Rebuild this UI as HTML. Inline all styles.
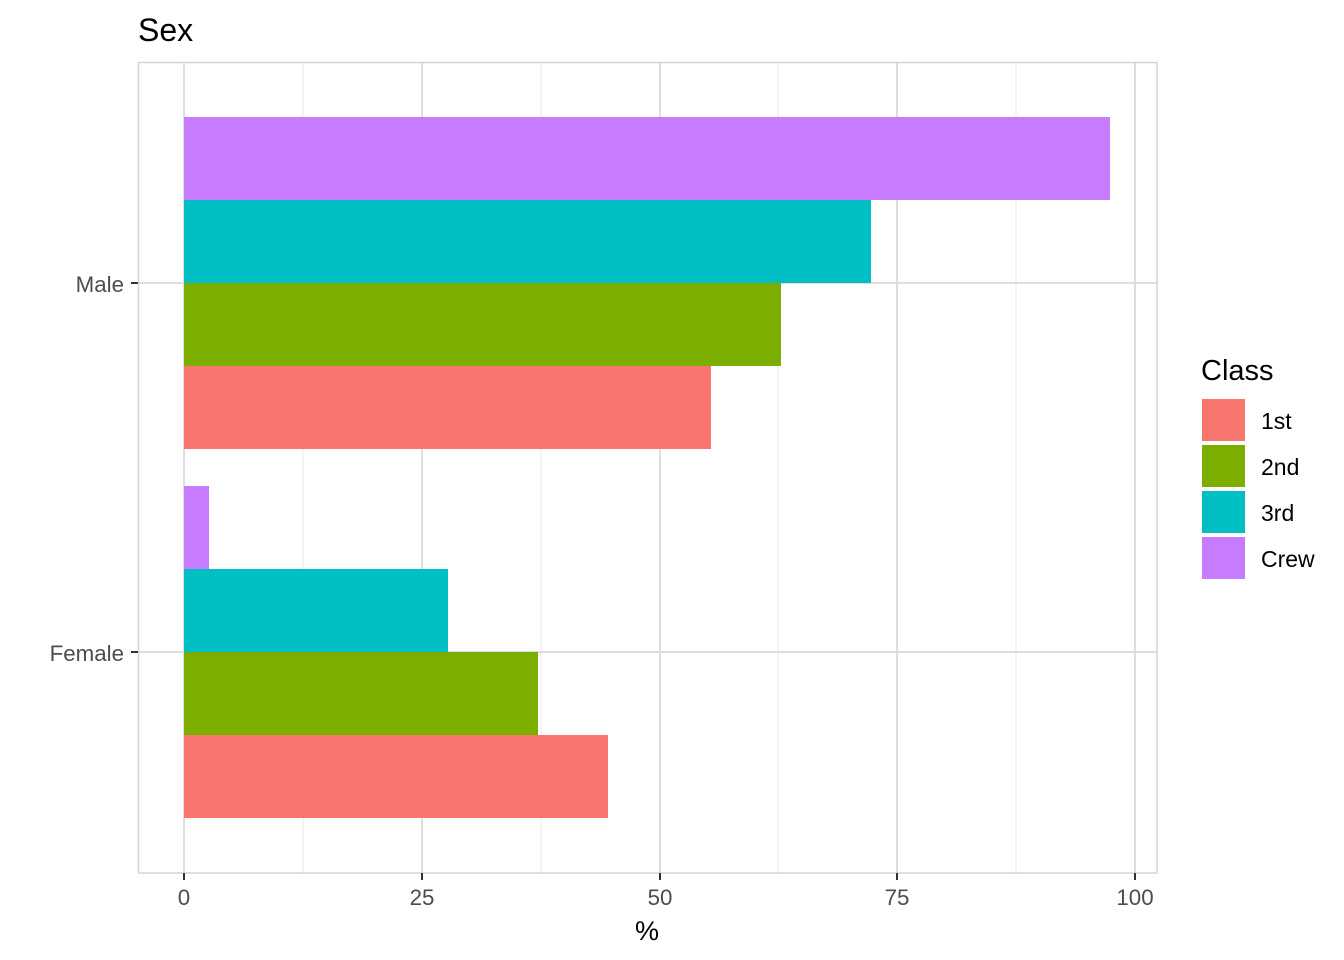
<!DOCTYPE html>
<html><head><meta charset="utf-8"><style>body{margin:0;background:#fff}svg{display:block}</style></head><body>
<svg width="1344" height="960" xmlns="http://www.w3.org/2000/svg" font-family="Liberation Sans, Arial, sans-serif">
<rect width="1344" height="960" fill="#fff"/>
<g stroke="#ebebeb" stroke-width="1.1">
<line x1="303" y1="62" x2="303" y2="873"/><line x1="541" y1="62" x2="541" y2="873"/>
<line x1="778" y1="62" x2="778" y2="873"/><line x1="1016" y1="62" x2="1016" y2="873"/>
</g>
<g stroke="#dedede" stroke-width="2">
<line x1="184" y1="62" x2="184" y2="873"/><line x1="422" y1="62" x2="422" y2="873"/>
<line x1="660" y1="62" x2="660" y2="873"/><line x1="897" y1="62" x2="897" y2="873"/>
<line x1="1135" y1="62" x2="1135" y2="873"/>
<line x1="138" y1="283" x2="1157" y2="283"/><line x1="138" y1="652" x2="1157" y2="652"/>
</g>
<rect x="184" y="117" width="926" height="83" fill="#C77CFF"/>
<rect x="184" y="200" width="687" height="83" fill="#00BFC4"/>
<rect x="184" y="283" width="597" height="83" fill="#7CAE00"/>
<rect x="184" y="366" width="527" height="83" fill="#F8766D"/>
<rect x="184" y="486" width="25" height="83" fill="#C77CFF"/>
<rect x="184" y="569" width="264" height="83" fill="#00BFC4"/>
<rect x="184" y="652" width="354" height="83" fill="#7CAE00"/>
<rect x="184" y="735" width="424" height="83" fill="#F8766D"/>
<rect x="138.5" y="62.5" width="1018.5" height="810.5" fill="none" stroke="#d4d4d4" stroke-width="1.5"/>
<g stroke="#333" stroke-width="2">
<line x1="131" y1="283" x2="138" y2="283"/><line x1="131" y1="652" x2="138" y2="652"/>
<line x1="184" y1="873" x2="184" y2="880"/><line x1="422" y1="873" x2="422" y2="880"/>
<line x1="660" y1="873" x2="660" y2="880"/><line x1="897" y1="873" x2="897" y2="880"/>
<line x1="1135" y1="873" x2="1135" y2="880"/>
</g>
<g fill="#4d4d4d" font-size="22.3">
<text x="124" y="292" text-anchor="end">Male</text>
<text x="124" y="661" text-anchor="end">Female</text>
<g text-anchor="middle">
<text x="184" y="905">0</text><text x="422" y="905">25</text><text x="660" y="905">50</text>
<text x="897" y="905">75</text><text x="1135" y="905">100</text>
</g></g>
<text x="647" y="940" text-anchor="middle" font-size="27" fill="#000">%</text>
<text x="138" y="41" font-size="32" fill="#000">Sex</text>
<text x="1201" y="380" font-size="29" fill="#000">Class</text>
<rect x="1202" y="399" width="43" height="42" fill="#F8766D"/>
<rect x="1202" y="445" width="43" height="42" fill="#7CAE00"/>
<rect x="1202" y="491" width="43" height="42" fill="#00BFC4"/>
<rect x="1202" y="537" width="43" height="42" fill="#C77CFF"/>
<g font-size="23" fill="#000">
<text x="1261" y="429">1st</text><text x="1261" y="475">2nd</text>
<text x="1261" y="521">3rd</text><text x="1261" y="567">Crew</text>
</g>
</svg>
</body></html>
